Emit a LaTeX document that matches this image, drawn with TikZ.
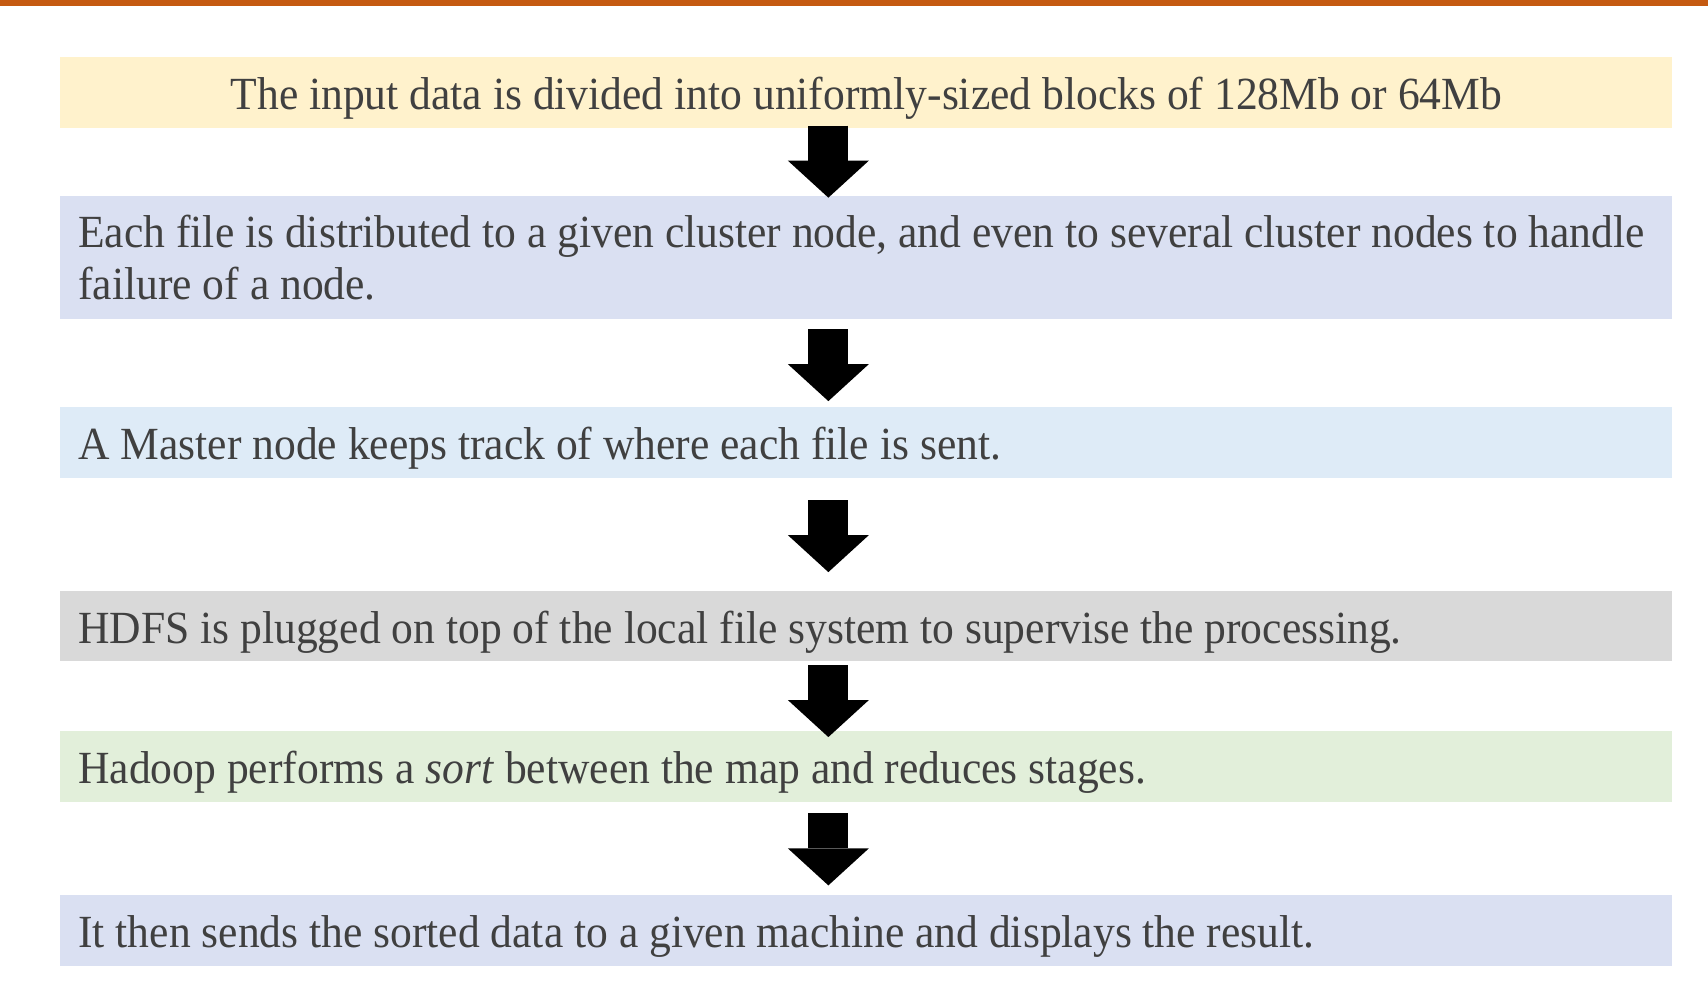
\documentclass[tikz,border=0pt]{standalone}
\usepackage{fontspec}
\setmainfont[FakeStretch=0.946]{Liberation Serif}
\usetikzlibrary{arrows.meta,positioning,calc}
\definecolor{barOrange}{HTML}{C55A11}
\definecolor{fillYellow}{HTML}{FFF2CC}
\definecolor{fillLavender}{HTML}{DAE0F2}
\definecolor{fillBlue}{HTML}{DEEBF7}
\definecolor{fillGray}{HTML}{D9D9D9}
\definecolor{fillGreen}{HTML}{E2EFDA}
\definecolor{textGray}{HTML}{404040}
\tikzset{
    box/.style={
        rectangle,
        anchor=north west,
        minimum width=32.24cm,
        inner xsep=0.36cm,
        inner ysep=0pt,
        text=textGray,
        font=\fontsize{26.2}{29.5}\selectfont,
    },
    boxOne/.style={
        text height=0.68cm,
        text depth=0pt,
    },
    boxLeft/.style={
        box,
        text width=31.52cm,
        align=flush left,
    },
    downArrow/.style={
        line width=0.8cm,
        -{Triangle[width=1.62cm,length=0.74cm,line width=0pt]},
    }
}
\begin{document}
\begin{tikzpicture}
    \useasboundingbox (0,0) rectangle (34.16,-19.96);
    \fill[barOrange] (0,0) rectangle (34.16,-0.12);
    \node [box,boxOne,fill=fillYellow,minimum height=1.42cm,align=center] (b1) at (1.2,-1.14)
        {The input data is divided into uniformly-sized blocks of 128Mb or 64Mb};
    \node [boxLeft,fill=fillLavender,minimum height=2.46cm] (b2) at (1.2,-3.92)
        {Each file is distributed to a given cluster node, and even to several cluster nodes to handle\\failure of a node.};
    \node [boxLeft,boxOne,fill=fillBlue,minimum height=1.42cm] (b3) at (1.2,-8.13)
        {A Master node keeps track of where each file is sent.};
    \node [boxLeft,boxOne,fill=fillGray,minimum height=1.40cm] (b4) at (1.2,-11.82)
        {HDFS is plugged on top of the local file system to supervise the processing.};
    \node [boxLeft,boxOne,fill=fillGreen,minimum height=1.42cm] (b5) at (1.2,-14.62)
        {Hadoop performs a \textit{sort} between the map and reduces stages.};
    \node [boxLeft,boxOne,fill=fillLavender,minimum height=1.42cm] (b6) at (1.2,-17.90)
        {It then sends the sorted data to a given machine and displays the result.};
    % arrows between the steps
    \foreach \a/\b/\dy in {b1/b2/0.014,b2/b3/-0.04,b3/b4/-0.03,b4/b5/-0.094,b5/b6/-0.01} {
        \coordinate (m) at ($(\a.south)!0.5!(\b.north)+(-0.76,\dy)$);
        \draw [downArrow] ([yshift=0.72cm]m) -- ([yshift=-0.72cm]m);
    }
\end{tikzpicture}
\end{document}
